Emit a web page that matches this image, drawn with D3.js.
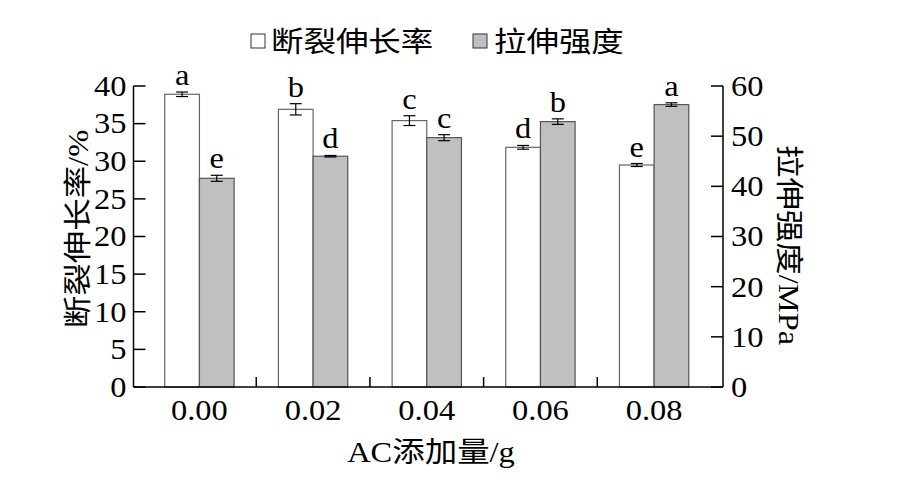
<!DOCTYPE html>
<html><head><meta charset="utf-8">
<script src="https://cdn.jsdelivr.net/npm/d3@7"></script>
<style>
body{margin:0;background:#fff;}
svg text{font-family:"Liberation Serif","Noto Sans CJK SC",serif;fill:#000;}
</style></head>
<body><svg id="c" width="921" height="478"></svg>
<script>
const categories = ["0.00","0.02","0.04","0.06","0.08"];
const elongation = [38.9, 36.9, 35.4, 31.85, 29.5];
const elongErr = [0.3, 0.75, 0.65, 0.25, 0.2];
const strength = [41.6, 46.0, 49.7, 52.9, 56.3];
const strengthErr = [0.6, 0.15, 0.6, 0.55, 0.35];
const elongLetters = ["a","b","c","d","e"];
const strengthLetters = ["e","d","c","b","a"];
const leftTicks = [0,5,10,15,20,25,30,35,40];
const rightTicks = [0,10,20,30,40,50,60];
const seriesNames = ["断裂伸长率","拉伸强度"];

const svg = d3.select("#c");
const L = 133.5, R = 723, T = 86, B = 387;
const SX = 1.12;
const x = d3.scaleLinear().domain([-0.58, 4.606]).range([L, R]);
const yL = d3.scaleLinear().domain([0, 40]).range([B, T]);
const yR = d3.scaleLinear().domain([0, 60]).range([B, T]);
const bw = 0.305;
const gray = "#c0c0c0";

function txt(sel, tx, ty, s, anchor, size, rot, dy) {
  const t = sel.append("text")
    .attr("transform", `translate(${tx},${ty})` + (rot ? ` rotate(${rot})` : "") + ` scale(${SX},1)`)
    .attr("text-anchor", anchor).attr("font-size", size).text(s);
  if (dy) t.attr("dy", dy);
  return t;
}

const g = svg.append("g");
categories.forEach((c, i) => {
  g.append("rect").attr("x", x(i - bw)).attr("width", x(i) - x(i - bw))
    .attr("y", yL(elongation[i])).attr("height", yL(0) - yL(elongation[i]))
    .attr("fill", "#fff").attr("stroke", "#666").attr("stroke-width", 1.2);
  g.append("rect").attr("x", x(i)).attr("width", x(i + bw) - x(i))
    .attr("y", yR(strength[i])).attr("height", yR(0) - yR(strength[i]))
    .attr("fill", gray).attr("stroke", "#555").attr("stroke-width", 1.2);
});
function err(cx, yv, e, sc) {
  const y1 = sc(yv + e), y2 = sc(yv - e);
  g.append("line").attr("x1", cx).attr("x2", cx).attr("y1", y1).attr("y2", y2).attr("stroke", "#000").attr("stroke-width", 1.2);
  [y1, y2].forEach(yy => g.append("line").attr("x1", cx - 6).attr("x2", cx + 6).attr("y1", yy).attr("y2", yy).attr("stroke", "#000").attr("stroke-width", 1.2));
}
categories.forEach((c, i) => {
  const cw = x(i - bw / 2), cg = x(i + bw / 2);
  err(cw, elongation[i], elongErr[i], yL);
  err(cg, strength[i], strengthErr[i], yR);
  txt(g, cw, yL(elongation[i] + elongErr[i]) - 7, elongLetters[i], "middle", 29);
  txt(g, cg, yR(strength[i] + strengthErr[i]) - 7, strengthLetters[i], "middle", 29);
});

const ax = svg.append("g");
ax.append("line").attr("x1", L).attr("x2", L).attr("y1", T).attr("y2", B).attr("stroke", "#000").attr("stroke-width", 1.5);
ax.append("line").attr("x1", R).attr("x2", R).attr("y1", T).attr("y2", B).attr("stroke", "#000").attr("stroke-width", 1.5);
ax.append("line").attr("x1", L).attr("x2", R).attr("y1", B).attr("y2", B).attr("stroke", "#000").attr("stroke-width", 1.5);
leftTicks.forEach(t => {
  ax.append("line").attr("x1", L).attr("x2", L + 12).attr("y1", yL(t)).attr("y2", yL(t)).attr("stroke", "#000").attr("stroke-width", 1.5);
  txt(ax, L - 7, yL(t), t, "end", 29, 0, "0.34em");
});
rightTicks.forEach(t => {
  ax.append("line").attr("x1", R).attr("x2", R - 12).attr("y1", yR(t)).attr("y2", yR(t)).attr("stroke", "#000").attr("stroke-width", 1.5);
  txt(ax, R + 8, yR(t), t, "start", 29, 0, "0.34em");
});
categories.forEach((c, i) => {
  txt(ax, x(i), B + 33, c, "middle", 29);
  if (i < categories.length - 1)
    ax.append("line").attr("x1", x(i + 0.5)).attr("x2", x(i + 0.5)).attr("y1", B).attr("y2", B - 10).attr("stroke", "#000").attr("stroke-width", 1.5);
});
txt(svg, 88, 229, "断裂伸长率/%", "middle", 29, -90);
txt(svg, 779, 245, "拉伸强度/MPa", "middle", 29, 90);
txt(svg, 431, 462, "AC添加量/g", "middle", 29);

const lg = svg.append("g");
lg.append("rect").attr("x", 251).attr("y", 34).attr("width", 14).attr("height", 14).attr("fill", "#fff").attr("stroke", "#333").attr("stroke-width", 1);
txt(lg, 271, 52, seriesNames[0], "start", 29);
lg.append("rect").attr("x", 473).attr("y", 34).attr("width", 14).attr("height", 14).attr("fill", gray).attr("stroke", "#333").attr("stroke-width", 1);
txt(lg, 494, 52, seriesNames[1], "start", 29);
</script></body></html>
